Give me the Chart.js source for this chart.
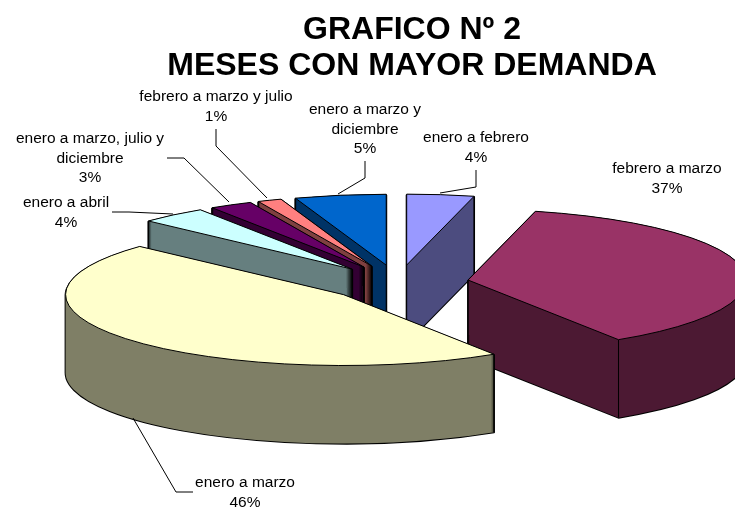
<!DOCTYPE html>
<html>
<head>
<meta charset="utf-8">
<title>Grafico 2</title>
<script src="https://cdn.jsdelivr.net/npm/chart.js@4"></script>
<style>
  html, body { margin: 0; padding: 0; background: #fff; overflow: hidden; }
  #myChart { display: block; }
</style>
</head>
<body>
<canvas id="myChart" width="735" height="508"></canvas>
<script>
// datos del grafico (las etiquetas muestran el valor redondeado)
const categories = ['enero a febrero', 'febrero a marzo', 'enero a marzo', 'enero a abril',
  'enero a marzo, julio y\ndiciembre', 'febrero a marzo y julio', 'enero a marzo y\ndiciembre'];
const values = [3.9, 37, 46, 3.9, 2.5, 1.4, 5.3];
const titleLines = ['GRAFICO Nº 2', 'MESES CON MAYOR DEMANDA'];

// estilos
const colors = ['#9999FF', '#993366', '#FFFFCC', '#CCFFFF', '#660066', '#FF8080', '#0066CC'];
const sideColors = ['#4C4C7F', '#4C1933', '#7F7F66', '#667F7F', '#330033', '#7F4040', '#003366'];

// posicion de las etiquetas: centro x, y de la primera linea, linea guia
const labelLayout = [
  { x: 476, y: 138, leader: [[440, 193], [476, 187], [476, 170]] },
  { x: 667, y: 169, leader: [] },
  { x: 245, y: 483, leader: [[133, 418], [176, 492], [193, 492]] },
  { x: 66, y: 203, leader: [[173, 214], [129, 212], [112, 212]] },
  { x: 90, y: 139, leader: [[229, 202], [184, 158], [167, 158]] },
  { x: 216, y: 97, leader: [[267, 198], [216, 146], [216, 129]] },
  { x: 365, y: 110, leader: [[338, 194], [365, 178], [365, 161]] }
];

// vista 3D
const pieX = 398;
const pieY = 283;
const radius = 278;
const explode = 71;
const tilt = 0.255;
const depth = 78;

// aplica inclinacion y separacion de la porcion y dibuja lo que venga en fn
function squashed(ctx, el, dy, fn) {
  const mid = (el.startAngle + el.endAngle) / 2;
  ctx.save();
  ctx.translate(pieX, pieY + dy);
  ctx.scale(1, tilt);
  ctx.translate(Math.cos(mid) * explode - el.x, Math.sin(mid) * explode - el.y);
  fn();
  ctx.restore();
}

// agrega el contorno de la porcion al path actual
function traceSlice(ctx, el, dy) {
  squashed(ctx, el, dy, () => {
    ctx.moveTo(el.x, el.y);
    ctx.arc(el.x, el.y, el.outerRadius, el.startAngle, el.endAngle);
    ctx.closePath();
  });
}

function verticalEdge(ctx, x, y) {
  ctx.beginPath();
  ctx.moveTo(x, y);
  ctx.lineTo(x, y + depth);
  ctx.lineWidth = 1;
  ctx.stroke();
}

function drawSlice(ctx, el, i) {
  ctx.save();
  ctx.strokeStyle = '#000';
  ctx.lineJoin = 'round';

  // costado: todas las capas en un solo path, asi no quedan bandas
  ctx.beginPath();
  for (let dy = depth; dy > 0; dy--) traceSlice(ctx, el, dy);
  ctx.lineWidth = 2;
  ctx.stroke();
  ctx.fillStyle = sideColors[i];
  ctx.fill();

  // aristas verticales que se ven
  const mid = (el.startAngle + el.endAngle) / 2;
  const ax = pieX + Math.cos(mid) * explode;
  const ay = pieY + Math.sin(mid) * explode * tilt;
  const startCut = Math.cos(el.startAngle) < -1e-6;
  const endCut = Math.cos(el.endAngle) > 1e-6;
  const edge = (angle) => verticalEdge(ctx, ax + Math.cos(angle) * el.outerRadius,
    ay + Math.sin(angle) * el.outerRadius * tilt);
  if (startCut || endCut) verticalEdge(ctx, ax, ay);
  if (startCut || Math.sin(el.startAngle) > 0) edge(el.startAngle);
  if (endCut || Math.sin(el.endAngle) > 0) edge(el.endAngle);

  // tapa
  squashed(ctx, el, 0, () => el.draw(ctx));
  ctx.beginPath();
  traceSlice(ctx, el, 0);
  ctx.lineWidth = 1;
  ctx.stroke();
  ctx.restore();
}

const pie3d = {
  id: 'pie3d',
  beforeDatasetsDraw(chart) {
    const ctx = chart.ctx;
    const arcs = chart.getDatasetMeta(0).data;
    // de atras hacia adelante
    const order = arcs.map((el, i) => i).sort((a, b) =>
      Math.sin((arcs[a].startAngle + arcs[a].endAngle) / 2) -
      Math.sin((arcs[b].startAngle + arcs[b].endAngle) / 2));
    order.forEach(i => drawSlice(ctx, arcs[i], i));
    return false;
  }
};

const sliceLabels = {
  id: 'sliceLabels',
  afterDraw(chart) {
    const ctx = chart.ctx;
    ctx.save();
    ctx.font = '15.5px "Liberation Sans", Arial, sans-serif';
    ctx.fillStyle = '#000';
    ctx.strokeStyle = '#000';
    ctx.lineWidth = 1;
    ctx.textAlign = 'center';
    ctx.textBaseline = 'middle';
    categories.forEach((cat, i) => {
      const pos = labelLayout[i];
      const lines = cat.split('\n').concat(Math.round(values[i]) + '%');
      lines.forEach((line, n) => ctx.fillText(line, pos.x, pos.y + n * 19.5));
      if (pos.leader.length) {
        ctx.beginPath();
        pos.leader.forEach((p, n) => n ? ctx.lineTo(p[0], p[1]) : ctx.moveTo(p[0], p[1]));
        ctx.stroke();
      }
    });
    ctx.restore();
  }
};

new Chart(document.getElementById('myChart'), {
  type: 'pie',
  plugins: [pie3d, sliceLabels],
  data: {
    labels: categories,
    datasets: [{
      data: values,
      backgroundColor: colors,
      borderWidth: 0,
      radius: radius
    }]
  },
  options: {
    responsive: false,
    animation: false,
    devicePixelRatio: 1,
    layout: { padding: { left: 89, top: 12 } },
    plugins: {
      legend: { display: false },
      tooltip: { enabled: false },
      title: {
        display: true,
        text: titleLines,
        color: '#000',
        font: { family: '"Liberation Sans", Arial, sans-serif', size: 32, weight: 'bold', lineHeight: 1.13 },
        padding: { top: 0, bottom: 0 }
      }
    }
  }
});
</script>
</body>
</html>
